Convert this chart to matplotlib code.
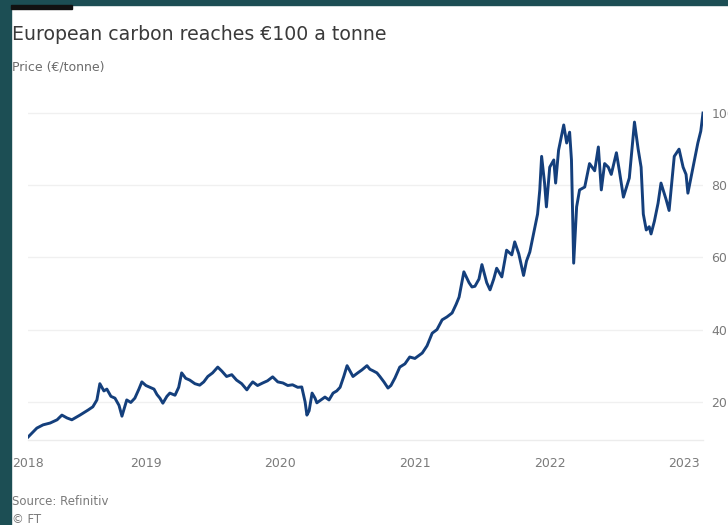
import matplotlib
matplotlib.use("Agg")
import matplotlib.pyplot as plt
import pandas as pd
from matplotlib.patches import Rectangle

title = "European carbon reaches €100 a tonne"
subtitle = "Price (€/tonne)"
source = "Source: Refinitiv"
credit = "© FT"

dates = [
    "2018-02-15", "2018-03-11", "2018-03-28", "2018-04-16", "2018-05-05", "2018-05-18",
    "2018-06-01", "2018-06-14", "2018-07-06", "2018-07-28", "2018-08-10", "2018-08-21",
    "2018-08-29", "2018-09-09", "2018-09-17", "2018-09-28", "2018-10-09", "2018-10-20",
    "2018-10-28", "2018-11-10", "2018-11-21", "2018-12-02", "2018-12-13", "2018-12-21",
    "2019-01-01", "2019-01-12", "2019-01-23", "2019-01-31", "2019-02-08", "2019-02-16",
    "2019-02-27", "2019-03-07", "2019-03-21", "2019-03-31", "2019-04-08", "2019-04-19",
    "2019-04-30", "2019-05-14", "2019-05-27", "2019-06-07", "2019-06-18", "2019-07-01",
    "2019-07-15", "2019-07-26", "2019-08-08", "2019-08-22", "2019-09-04", "2019-09-18",
    "2019-10-02", "2019-10-10", "2019-10-18", "2019-10-31", "2019-11-14", "2019-11-27",
    "2019-12-11", "2019-12-25", "2020-01-08", "2020-01-21", "2020-02-03", "2020-02-17",
    "2020-02-28", "2020-03-08", "2020-03-13", "2020-03-19", "2020-03-27", "2020-04-04",
    "2020-04-09", "2020-04-20", "2020-05-01", "2020-05-12", "2020-05-23", "2020-06-02",
    "2020-06-11", "2020-06-21", "2020-06-30", "2020-07-08", "2020-07-16", "2020-07-29",
    "2020-08-09", "2020-08-17", "2020-08-23", "2020-08-31", "2020-09-08", "2020-09-19",
    "2020-09-27", "2020-10-08", "2020-10-19", "2020-10-27", "2020-11-07", "2020-11-20",
    "2020-12-04", "2020-12-17", "2020-12-31", "2021-01-20", "2021-02-02", "2021-02-16",
    "2021-03-01", "2021-03-15", "2021-03-28", "2021-04-11", "2021-04-22", "2021-04-30",
    "2021-05-13", "2021-05-27", "2021-06-04", "2021-06-12", "2021-06-23", "2021-07-01",
    "2021-07-14", "2021-07-23", "2021-08-02", "2021-08-10", "2021-08-24", "2021-09-06",
    "2021-09-20", "2021-09-28", "2021-10-09", "2021-10-22", "2021-10-30", "2021-11-08",
    "2021-11-21", "2021-11-29", "2021-12-05", "2021-12-10", "2021-12-18", "2021-12-23",
    "2022-01-01", "2022-01-12", "2022-01-17", "2022-01-25", "2022-02-08", "2022-02-16",
    "2022-02-24", "2022-03-01", "2022-03-07", "2022-03-15", "2022-03-23", "2022-04-06",
    "2022-04-19", "2022-05-03", "2022-05-13", "2022-05-21", "2022-05-30", "2022-06-09",
    "2022-06-17", "2022-07-01", "2022-07-09", "2022-07-20", "2022-08-05", "2022-08-19",
    "2022-08-29", "2022-09-06", "2022-09-12", "2022-09-20", "2022-09-28", "2022-10-03",
    "2022-10-12", "2022-10-22", "2022-10-30", "2022-11-13", "2022-11-21", "2022-12-05",
    "2022-12-18", "2022-12-29", "2023-01-06", "2023-01-11", "2023-01-25", "2023-02-07",
    "2023-02-15", "2023-02-21",
]

prices = [
    10.2, 12.7, 13.6, 14.1, 15.0, 16.3,
    15.5, 15.0, 16.3, 17.7, 18.6, 20.5,
    25.0, 23.0, 23.5, 21.5, 21.0, 19.0,
    16.0, 20.5, 19.8, 21.0, 23.5, 25.5,
    24.5, 24.0, 23.5, 22.0, 21.0, 19.6,
    21.5, 22.4, 21.8, 24.0, 28.0, 26.5,
    26.0, 25.0, 24.6, 25.5, 27.0, 28.0,
    29.6, 28.5, 27.0, 27.5, 26.0, 25.0,
    23.3, 24.5, 25.5, 24.5, 25.2, 25.8,
    26.9, 25.5, 25.2, 24.5, 24.7, 24.0,
    24.1, 20.0, 16.3, 17.5, 22.4, 21.0,
    19.7, 20.5, 21.3, 20.5, 22.4, 23.0,
    24.0, 27.0, 30.0, 28.5, 27.0, 28.0,
    28.8, 29.5, 30.0, 29.0, 28.6, 28.0,
    27.0, 25.5, 23.8, 24.5, 26.6, 29.6,
    30.5, 32.4, 32.0, 33.5, 35.5, 39.0,
    40.0, 42.7, 43.5, 44.6, 47.0, 49.0,
    56.0, 53.0, 51.8, 52.0, 54.0, 58.0,
    53.0, 51.0, 54.0, 57.0, 54.6, 62.0,
    60.7, 64.3, 61.0, 55.0, 59.0, 61.5,
    68.0, 72.0, 78.7, 88.0, 80.6, 74.0,
    85.0, 87.0, 80.6, 89.7, 96.7, 91.7,
    94.7, 87.0, 58.4, 74.0, 78.7, 79.5,
    86.0, 84.0, 90.6, 78.7, 86.0, 85.0,
    83.0, 89.0, 84.0, 76.7, 82.0, 97.5,
    90.0, 85.0, 72.0, 67.6, 68.5, 66.5,
    70.0, 75.0, 80.6, 76.0, 73.0, 88.0,
    90.0, 85.0, 83.0, 77.8, 85.0, 91.7,
    95.0, 100.0,
]

y_ticks = [20, 40, 60, 80, 100]
x_tick_dates = ["2018-02-15", "2019-01-01", "2020-01-01", "2021-01-01", "2022-01-01", "2023-01-01"]
x_tick_labels = ["2018", "2019", "2020", "2021", "2022", "2023"]

W, H = 728, 525
fig = plt.figure(figsize=(W / 100, H / 100), dpi=100)
fig.patch.set_facecolor("white")

teal = "#1c4e54"
fig.add_artist(Rectangle((0, 0), 11 / W, 1, transform=fig.transFigure, color=teal, zorder=0))
fig.add_artist(Rectangle((0, 1 - 5 / H), 1, 5 / H, transform=fig.transFigure, color=teal, zorder=0))
fig.add_artist(Rectangle((11 / W, 1 - 9 / H), 61 / W, 4 / H, transform=fig.transFigure, color="#111111", zorder=1))

font = "DejaVu Sans"
fig.text(12 / W, 1 - 40 / H, title, fontsize=13.6, color="#3a3a3a", family=font, va="baseline", ha="left")
fig.text(12 / W, 1 - 71 / H, subtitle, fontsize=9.0, color="#6b6b6b", family=font, va="baseline", ha="left")
fig.text(12 / W, 1 - 505 / H, source, fontsize=8.5, color="#7a7a7a", family=font, va="baseline", ha="left")
fig.text(12 / W, 1 - 523 / H, credit, fontsize=8.5, color="#7a7a7a", family=font, va="baseline", ha="left")

ax_left, ax_right = 28 / W, 703 / W
ax_bottom, ax_top = 1 - 440 / H, 1 - 108 / H
ax = fig.add_axes([ax_left, ax_bottom, ax_right - ax_left, ax_top - ax_bottom])

x = pd.to_datetime(dates)
ax.plot(x, prices, color="#143f7c", lw=2.1, solid_joinstyle="round", zorder=3)

ax.set_xlim(pd.Timestamp("2018-02-15"), pd.Timestamp("2023-02-21"))
ax.set_ylim(9.4, 101.4)

ax.set_yticks(y_ticks)
ax.set_yticklabels([str(v) for v in y_ticks])
ax.yaxis.tick_right()
ax.tick_params(axis="y", length=0, pad=6, labelsize=9, labelcolor="#7a7a7a")
for lab in ax.get_yticklabels():
    lab.set_family(font)

ax.set_xticks(pd.to_datetime(x_tick_dates))
ax.set_xticklabels(x_tick_labels)
ax.tick_params(axis="x", length=0, pad=12, labelsize=9, labelcolor="#7a7a7a")
for lab in ax.get_xticklabels():
    lab.set_family(font)

ax.grid(axis="y", color="#f0f0f0", lw=1.0)
ax.set_axisbelow(True)
for s in ["top", "left", "right"]:
    ax.spines[s].set_visible(False)
ax.spines["bottom"].set_color("#ececec")
ax.spines["bottom"].set_linewidth(1.0)
ax.set_facecolor("none")

fig.savefig("out.png", dpi=100)
